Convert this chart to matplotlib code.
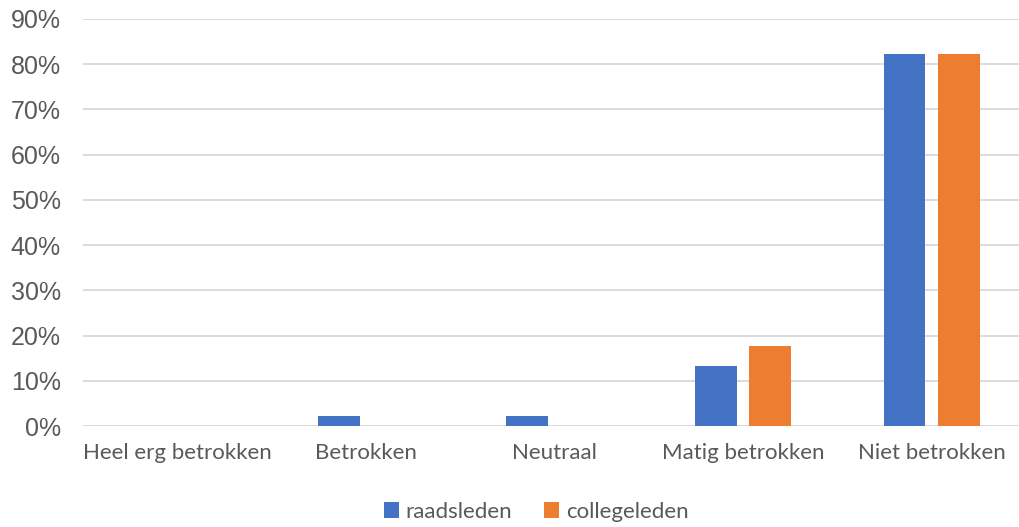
import numpy as np
import matplotlib
matplotlib.use("Agg")
import matplotlib.pyplot as plt
from matplotlib.ticker import PercentFormatter

categories = ["Heel erg betrokken", "Betrokken", "Neutraal", "Matig betrokken", "Niet betrokken"]
raadsleden = [0.0, 0.022, 0.022, 0.132, 0.822]
collegeleden = [0.0, 0.0, 0.0, 0.176, 0.822]
series_names = ["raadsleden", "collegeleden"]
colors = ["#4472C4", "#ED7D31"]
yticks = [0, 0.1, 0.2, 0.3, 0.4, 0.5, 0.6, 0.7, 0.8, 0.9]

plt.rcParams['font.family'] = ['Lato', 'DejaVu Sans']
grey = "#595959"

fig = plt.figure(figsize=(10.19, 5.27), dpi=100)
ax = fig.add_axes([83 / 1019, 101 / 527, 943 / 1019, 407 / 527])

x = np.arange(len(categories))
w = 0.222
off = 0.144
ax.bar(x - off, raadsleden, w, color=colors[0], label=series_names[0], zorder=3)
ax.bar(x + off, collegeleden, w, color=colors[1], label=series_names[1], zorder=3)

ax.set_xlim(-0.5, len(categories) - 0.5)
ax.set_ylim(0, 0.9)
ax.set_yticks(yticks)
ax.yaxis.set_major_formatter(PercentFormatter(1.0, decimals=0))
ax.set_xticks(x)
ax.set_xticklabels(categories)
ax.grid(axis="y", color="#D9D9D9", linewidth=1.3, zorder=0)
for s in ax.spines.values():
    s.set_visible(False)
ax.tick_params(axis="both", length=0, colors=grey)
ax.tick_params(axis="y", labelsize=18, pad=16)
ax.tick_params(axis="x", labelsize=16, pad=12)
for lbl in ax.get_yticklabels():
    lbl.set_family(['Liberation Sans', 'DejaVu Sans'])

leg = fig.legend(loc="center", bbox_to_anchor=(536 / 1019, 1 - 512 / 527), ncol=2,
                 frameon=False, fontsize=16, handlelength=0.7, handleheight=0.7,
                 handletextpad=0.3, columnspacing=1.4)
for t in leg.get_texts():
    t.set_color(grey)

fig.savefig("out.png", dpi=100)
